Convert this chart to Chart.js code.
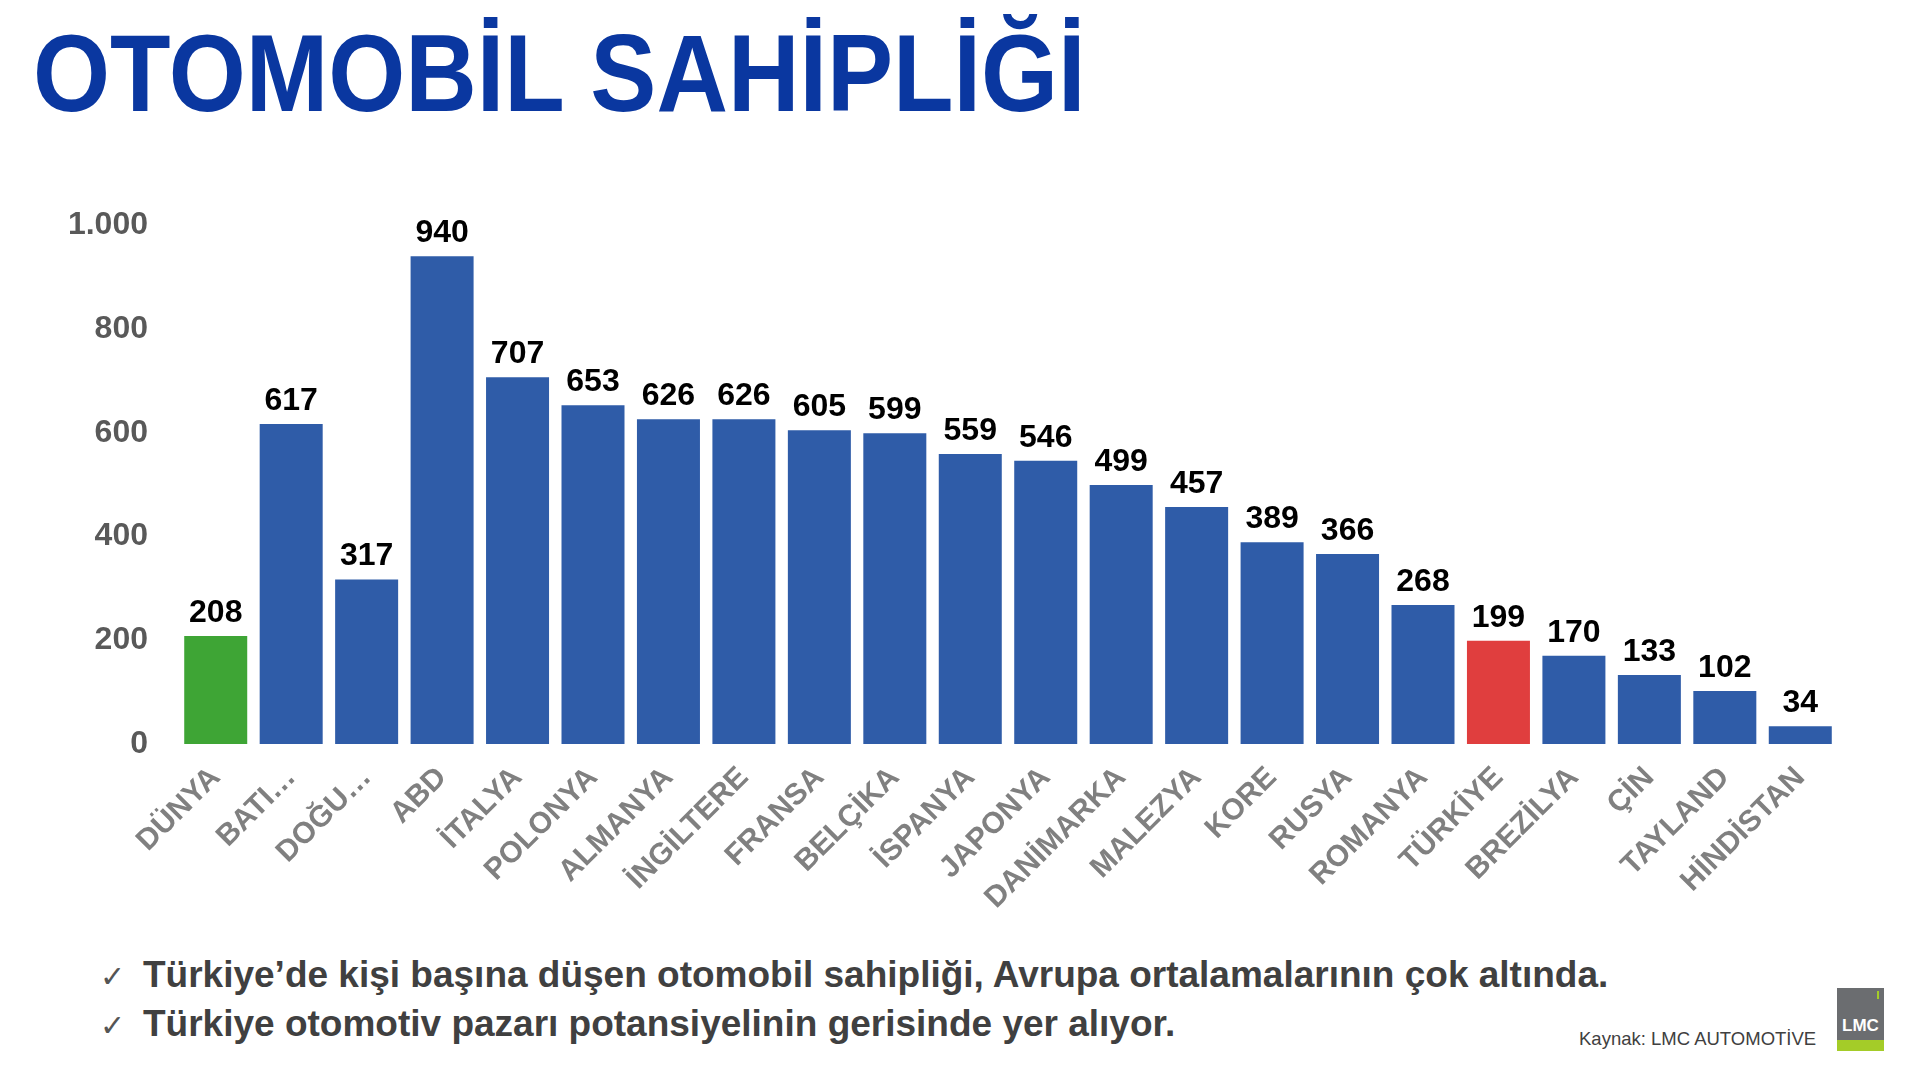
<!DOCTYPE html>
<html lang="tr">
<head>
<meta charset="utf-8">
<title>Otomobil Sahipliği</title>
<script src="https://cdn.jsdelivr.net/npm/chart.js@4.4.1/dist/chart.umd.min.js"></script>
<style>
    html, body {
        margin: 0;
        padding: 0;
        width: 1920px;
        height: 1080px;
        background: #ffffff;
        overflow: hidden;
        font-family: "Liberation Sans", Arial, sans-serif;
    }
    #title {
        position: absolute;
        left: 33px;
        top: 9px;
        font-size: 110px;
        font-weight: bold;
        color: #0a37a0;
        transform: scaleX(0.9);
        transform-origin: left top;
        white-space: nowrap;
    }
    #chartBox {
        position: absolute;
        left: 0;
        top: 184px;
        width: 1900px;
        height: 760px;
    }
    .bullet {
        position: absolute;
        left: 100px;
        font-size: 37px;
        font-weight: bold;
        color: #404040;
        white-space: nowrap;
    }
    .bullet .tick {
        font-weight: normal;
        font-size: 30px;
        color: #555555;
        margin-right: 18px;
    }
    #source {
        position: absolute;
        left: 1579px;
        top: 1028px;
        font-size: 18.5px;
        color: #404040;
        white-space: nowrap;
    }
    #logo {
        position: absolute;
        left: 1837px;
        top: 988px;
        width: 47px;
        height: 63px;
        background: #6b6d70;
    }
    #logo .txt {
        position: absolute;
        left: 0;
        width: 47px;
        top: 28px;
        text-align: center;
        color: #ffffff;
        font-weight: bold;
        font-size: 17px;
    }
    #logo .band {
        position: absolute;
        left: 0;
        bottom: 0;
        width: 47px;
        height: 11px;
        background: #a4cc28;
    }
    #logo .mark {
        position: absolute;
        right: 5px;
        top: 3px;
        width: 2px;
        height: 8px;
        background: #a4cc28;
    }
</style>
</head>
<body>
<div id="title">OTOMOBİL SAHİPLİĞİ</div>
<div id="chartBox"><canvas id="ownershipChart"></canvas></div>
<div class="bullet" style="top:954px"><span class="tick">✓</span>Türkiye’de kişi başına düşen otomobil sahipliği, Avrupa ortalamalarının çok altında.</div>
<div class="bullet" style="top:1003px"><span class="tick">✓</span>Türkiye otomotiv pazarı potansiyelinin gerisinde yer alıyor.</div>
<div id="source">Kaynak: LMC AUTOMOTİVE</div>
<div id="logo"><div class="mark"></div><div class="txt">LMC</div><div class="band"></div></div>

<script>
// countries (x axis)
const countries = ['DÜNYA', 'BATI…', 'DOĞU…', 'ABD', 'İTALYA', 'POLONYA', 'ALMANYA', 'İNGİLTERE',
    'FRANSA', 'BELÇİKA', 'İSPANYA', 'JAPONYA', 'DANİMARKA', 'MALEZYA', 'KORE', 'RUSYA',
    'ROMANYA', 'TÜRKİYE', 'BREZİLYA', 'ÇİN', 'TAYLAND', 'HİNDİSTAN'];

// cars per 1000 people
const carsPerThousand = [208, 617, 317, 940, 707, 653, 626, 626, 605, 599, 559, 546,
    499, 457, 389, 366, 268, 199, 170, 133, 102, 34];

// y axis ticks
const yTicks = [0, 200, 400, 600, 800, 1000];

const blue = '#2f5ca8';
const green = '#3ea535';
const red = '#e03e3e';

function barColor(name) {
    if (name === 'DÜNYA') return green;
    if (name === 'TÜRKİYE') return red;
    return blue;
}

function formatThousands(v) {
    // 1000 -> 1.000
    return String(v).replace(/\B(?=(\d{3})+(?!\d))/g, '.');
}

// draws the value above each bar
const valueLabels = {
    id: 'valueLabels',
    afterDatasetsDraw(chart) {
        const ctx = chart.ctx;
        const meta = chart.getDatasetMeta(0);
        ctx.save();
        ctx.font = 'bold 32px "Liberation Sans", Arial, sans-serif';
        ctx.fillStyle = '#000000';
        ctx.textAlign = 'center';
        ctx.textBaseline = 'bottom';
        meta.data.forEach((bar, i) => {
            ctx.fillText(formatThousands(carsPerThousand[i]), bar.x, bar.y - 7);
        });
        ctx.restore();
    }
};

Chart.defaults.font.family = '"Liberation Sans", Arial, sans-serif';

const ctx = document.getElementById('ownershipChart').getContext('2d');
new Chart(ctx, {
    type: 'bar',
    data: {
        labels: countries,
        datasets: [{
            data: carsPerThousand,
            backgroundColor: countries.map(barColor),
            borderWidth: 0,
            barPercentage: 0.835,
            categoryPercentage: 1.0
        }]
    },
    options: {
        responsive: true,
        maintainAspectRatio: false,
        animation: false,
        layout: {
            padding: { top: 24, right: 62, left: 0, bottom: 0 }
        },
        plugins: {
            legend: { display: false },
            tooltip: { enabled: false }
        },
        scales: {
            x: {
                grid: { display: false },
                border: { display: false },
                afterFit(scale) { scale.height = 200; },
                ticks: {
                    autoSkip: false,
                    maxRotation: 45,
                    minRotation: 45,
                    padding: 8,
                    color: '#808080',
                    font: { size: 30, weight: 'bold' }
                }
            },
            y: {
                min: 0,
                max: 1000,
                grid: { display: false },
                border: { display: false },
                afterFit(scale) { scale.width = 178; },
                afterBuildTicks(scale) {
                    scale.ticks = yTicks.map(v => ({ value: v }));
                },
                ticks: {
                    padding: 22,
                    color: '#595959',
                    font: { size: 32, weight: 'bold' },
                    callback: (v) => formatThousands(v)
                }
            }
        }
    },
    plugins: [valueLabels]
});
</script>
</body>
</html>
